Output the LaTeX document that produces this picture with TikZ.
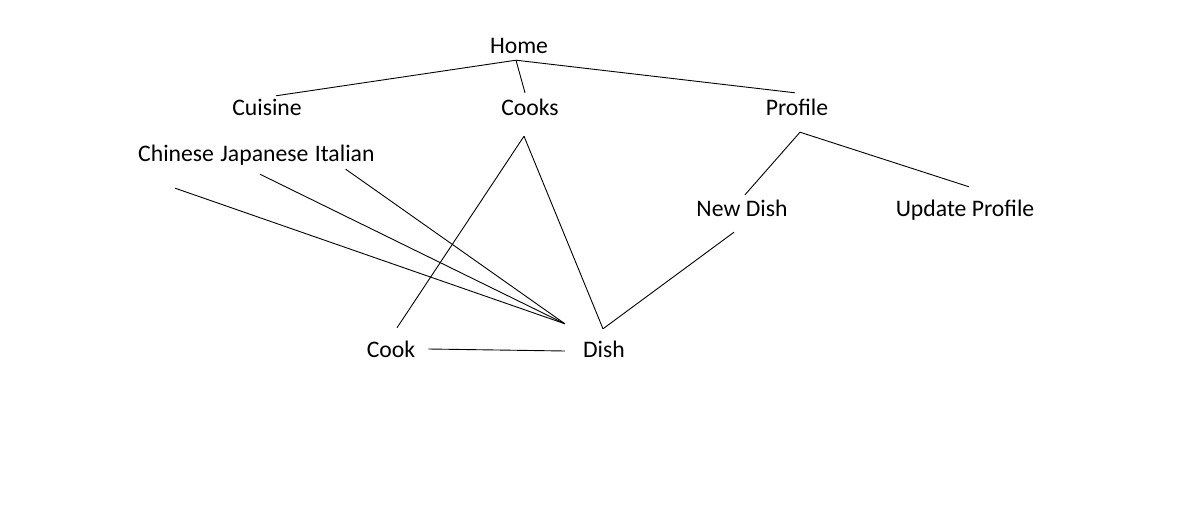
\documentclass[tikz,border=0pt]{standalone}
\usepackage{fontspec}
\setmainfont{Carlito}
\usetikzlibrary{positioning}

\begin{document}
\begin{tikzpicture}[x=1pt, y=-1pt, main/.style={font=\fontsize{23.7}{28}\selectfont, inner sep=4pt, text height=17pt, text depth=5pt, anchor=base}, n/.style={line width=0.9pt}]
            \useasboundingbox (0,0) rectangle (1179,508);
            % nodes
            \node[main] (home) at (519,54) {Home};
            \node[main] (cuisine) at (267,116) {Cuisine};
            \node[main] (cooks) at (530,116) {Cooks};
            \node[main] (profile) at (797,116) {Profile};
            \node[main, anchor=base west] (chinese) at (134,161.5) {Chinese};
            \node[main, right=-2pt of chinese] (japanese) {Japanese};
            \node[main, right=-2pt of japanese] (italian) {Italian};
            \node[main] (newdish) at (742,216) {New Dish};
            \node[main] (update) at (965,216) {Update Profile};
            \node[main] (cook) at (391,357) {Cook};
            \node[main] (dish) at (604,357) {Dish};
            % meeting points
            \coordinate (cooksfoot) at ([shift={(-6,11)}]cooks.south);
            \coordinate (profilefoot) at ([shift={(3,7)}]profile.south);
            \coordinate (dishtip) at ([shift={(-14,-12)}]dish.north west);
            \coordinate (dishtop) at ([shift={(-1,-7)}]dish.north);
            % edges
            \draw [n] ([shift={(-3,-3)}]home.south) -- ([shift={(9,1)}]cuisine.north);
            \draw [n] ([shift={(-3,-3)}]home.south) -- ([shift={(-5,-2)}]cooks.north);
            \draw [n] ([shift={(-3,-3)}]home.south) -- ([shift={(-2,-2)}]profile.north);
            \draw [n] (cooksfoot) -- ([shift={(6,-8)}]cook.north);
            \draw [n] (cooksfoot) -- (dishtop);
            \draw [n] ([shift={(-1,17.5)}]chinese.south) -- (dishtip);
            \draw [n] ([shift={(-4.5,3.5)}]japanese.south) -- (dishtip);
            \draw [n] ([shift={(1,-1.5)}]italian.south) -- (dishtip);
            \draw [n] ([shift={(9,-2)}]cook.east) -- ([shift={(-14,0)}]dish.west);
            \draw [n] (profilefoot) -- ([shift={(3,0)}]newdish.north);
            \draw [n] (profilefoot) -- ([shift={(4,-8)}]update.north);
            \draw [n] ([shift={(-8,7)}]newdish.south) -- (dishtop);
        \end{tikzpicture}
\end{document}
